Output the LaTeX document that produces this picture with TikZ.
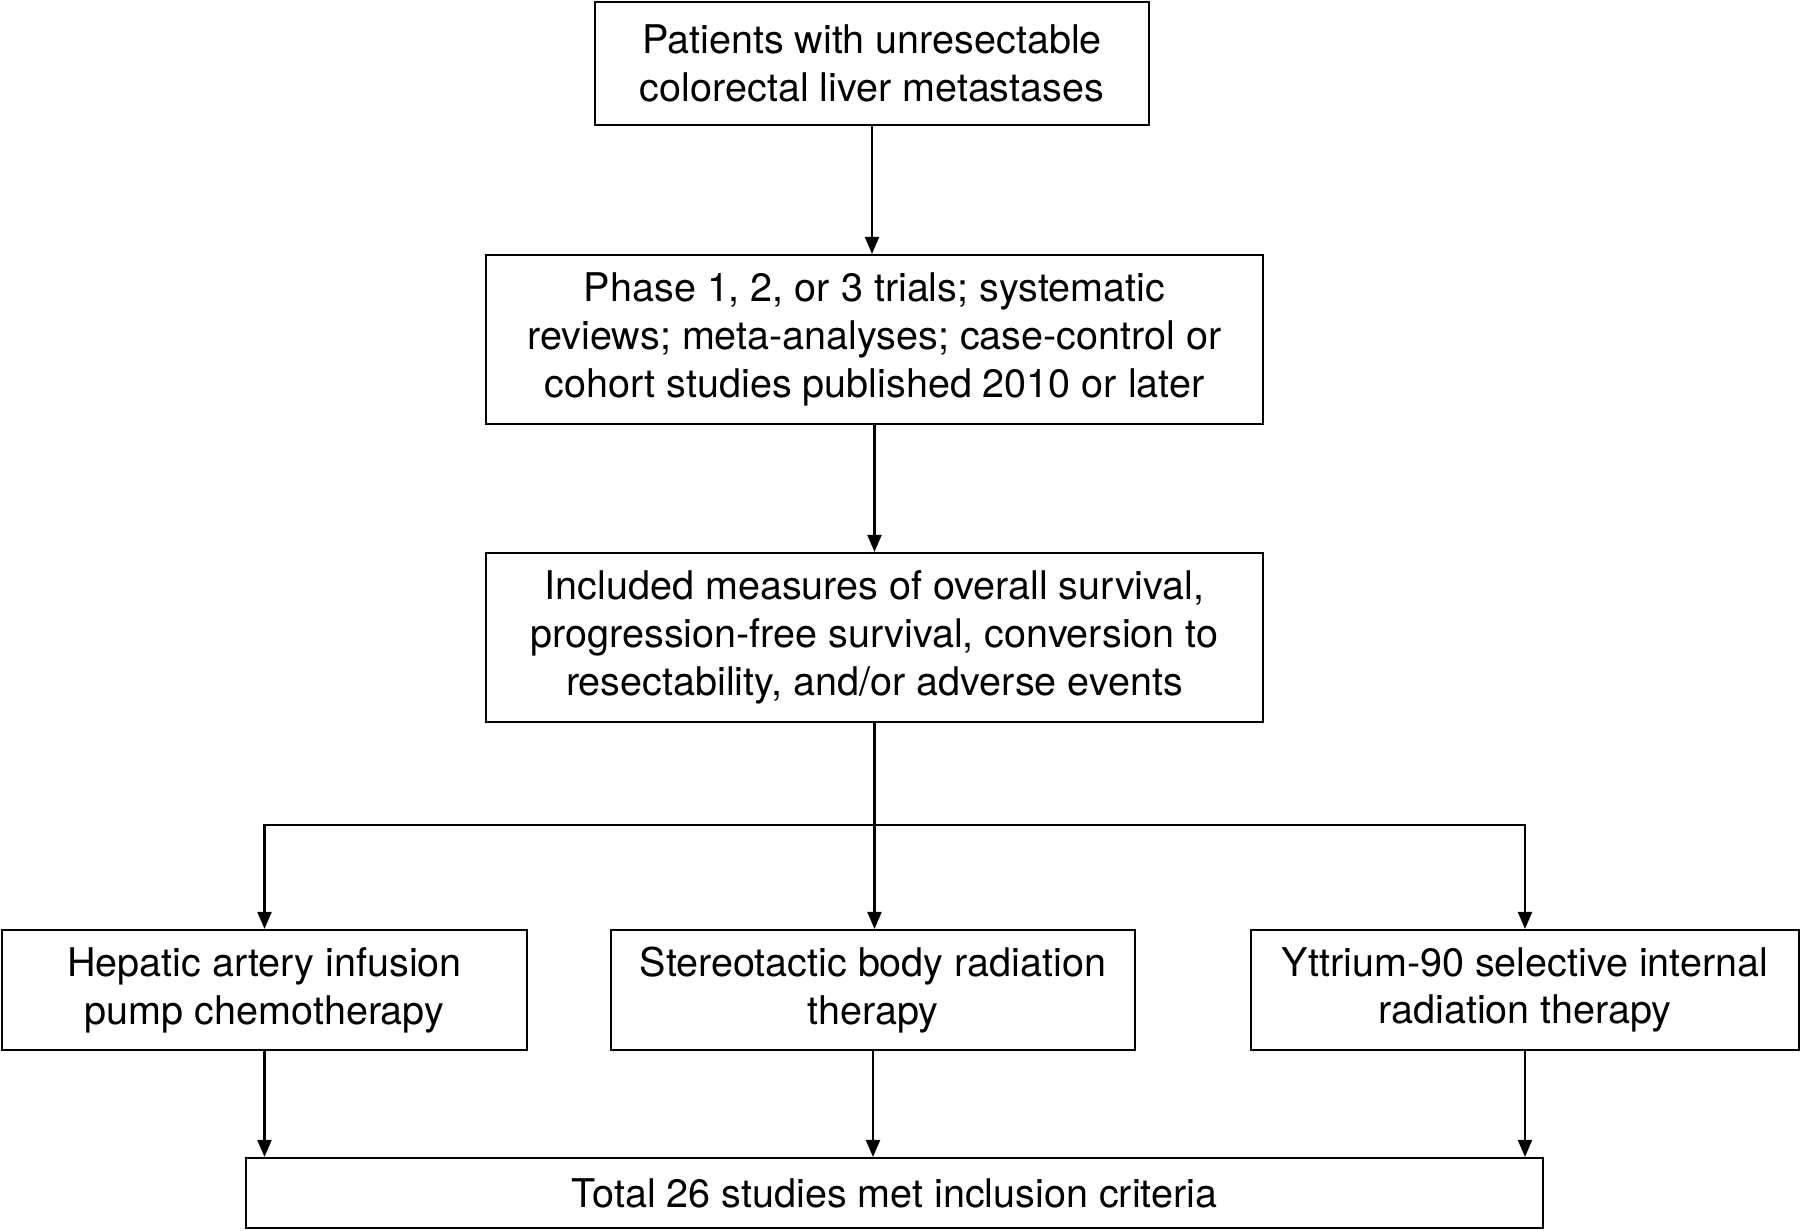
\documentclass[tikz,border=0pt]{standalone}
\usepackage{fontspec}
\setmainfont{TeX Gyre Heros}
\usepackage{tikz}
\usetikzlibrary{arrows.meta}
\usetikzlibrary{positioning}

\begin{document}
\begin{tikzpicture}[
            box/.style={draw=black, line width=0.6pt, align=center, inner sep=0pt,
                font=\fontsize{11.25pt}{13.6pt}\selectfont},
            link/.style={line width=0.6pt, -{Triangle[length=0.17cm, width=0.14cm]}}
        ]
            \useasboundingbox (0, 0) rectangle (18, -12.31);
            \node[box, minimum width=5.54cm, minimum height=1.23cm] (patients) at (8.72, -0.635)
                {Patients with unresectable\\colorectal liver metastases};
            \node[box, minimum width=7.77cm, minimum height=1.69cm] (trials) at (8.745, -3.395)
                {Phase 1, 2, or 3 trials; systematic\\reviews; meta-analyses; case-control or\\cohort studies published 2010 or later};
            \node[box, minimum width=7.77cm, minimum height=1.69cm] (measures) at (8.745, -6.375)
                {Included measures of overall survival,\\progression-free survival, conversion to\\resectability, and/or adverse events};
            \node[box, minimum width=5.25cm, minimum height=1.2cm] (haipc) at (2.645, -9.9)
                {Hepatic artery infusion\\pump chemotherapy};
            \node[box, minimum width=5.24cm, minimum height=1.2cm] (sbrt) at (8.73, -9.9)
                {Stereotactic body radiation\\therapy};
            \node[box, minimum width=5.48cm, minimum height=1.2cm] (sirt) at (15.25, -9.9)
                {Yttrium-90 selective internal\\radiation therapy};
            \node[box, minimum width=12.97cm, minimum height=0.7cm] (total) at (8.945, -11.93)
                {Total 26 studies met inclusion criteria};
            \coordinate (split) at (8.745, -8.25);

            \draw[link] (patients.south) -- (patients.south |- trials.north);
            \draw[link] (trials.south) -- (trials.south |- measures.north);
            \draw[link] (measures.south) -- (measures.south |- sbrt.north);
            \draw[link] (split) -| (haipc.north);
            \draw[link] (split) -| (sirt.north);
            \draw[link] (haipc.south) -- (haipc.south |- total.north);
            \draw[link] (sbrt.south) -- (sbrt.south |- total.north);
            \draw[link] (sirt.south) -- (sirt.south |- total.north);
        \end{tikzpicture}
\end{document}
